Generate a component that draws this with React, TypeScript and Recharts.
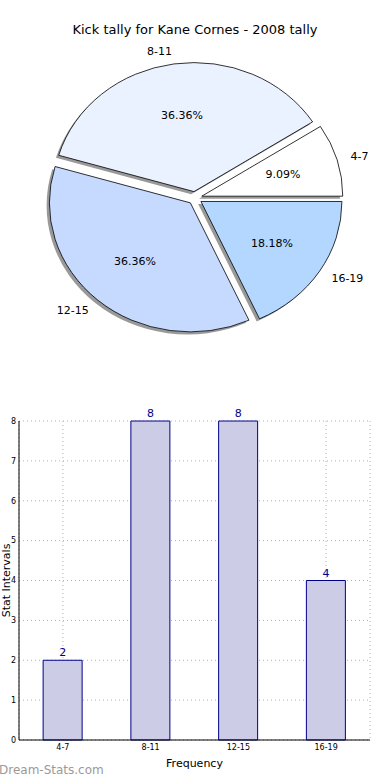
import React from "react";
import {
  PieChart,
  Pie,
  Cell,
  BarChart,
  Bar,
  XAxis,
  YAxis,
  CartesianGrid,
  LabelList,
  Label,
} from "recharts";

const categories = ["4-7", "8-11", "12-15", "16-19"];
const tallies = [2, 8, 8, 4];
const sliceColors = ["#ffffff", "#ebf2ff", "#c6d9ff", "#b3d7ff"];
const yTicks = [0, 1, 2, 3, 4, 5, 6, 7, 8];

const data = categories.map((name, i) => ({ name, value: tallies[i] }));

const FONT = "'DejaVu Sans', sans-serif";
const RAD = Math.PI / 180;
const Y_SQUASH = 129 / 141;
const EXPLODE = 0.05;

function ellipsePath(x0: number, y0: number, rx: number, ry: number, a0: number, a1: number) {
  const sx = x0 + rx * Math.cos(a0 * RAD);
  const sy = y0 - ry * Math.sin(a0 * RAD);
  const ex = x0 + rx * Math.cos(a1 * RAD);
  const ey = y0 - ry * Math.sin(a1 * RAD);
  const large = Math.abs(a1 - a0) > 180 ? 1 : 0;
  return `M${x0},${y0} L${sx},${sy} A${rx},${ry} 0 ${large} 0 ${ex},${ey} Z`;
}

// elliptical, exploded wedge with a matplotlib-like drop shadow
function WedgeShape(props: any) {
  const { cx, cy, outerRadius, startAngle, endAngle, fill } = props;
  const rx = outerRadius;
  const ry = outerRadius * Y_SQUASH;
  const mid = (startAngle + endAngle) / 2;
  const x0 = cx + EXPLODE * rx * Math.cos(mid * RAD);
  const y0 = cy - EXPLODE * ry * Math.sin(mid * RAD);
  return (
    <g>
      <path
        d={ellipsePath(x0 - 2.8, y0 + 2.6, rx, ry, startAngle, endAngle)}
        fill="#000"
        fillOpacity={0.4}
      />
      <path
        d={ellipsePath(x0, y0, rx, ry, startAngle, endAngle)}
        fill={fill}
        stroke="#000"
        strokeWidth={0.8}
        strokeLinejoin="miter"
      />
    </g>
  );
}

function PieLabels(props: any) {
  const { cx, cy, midAngle, outerRadius, name, percent } = props;
  const rx = outerRadius;
  const ry = outerRadius * Y_SQUASH;
  const c = Math.cos(midAngle * RAD);
  const s = Math.sin(midAngle * RAD);
  const x0 = cx + EXPLODE * rx * c;
  const y0 = cy - EXPLODE * ry * s;
  return (
    <g fontFamily={FONT} fontSize={11} fill="#000">
      <text
        x={x0 + 1.1 * rx * c}
        y={y0 - 1.1 * ry * s}
        textAnchor={c > 0 ? "start" : "end"}
        dominantBaseline="central"
      >
        {name}
      </text>
      <text
        x={x0 + 0.6 * rx * c}
        y={y0 - 0.6 * ry * s}
        textAnchor="middle"
        dominantBaseline="central"
      >
        {(percent * 100).toFixed(2)}%
      </text>
    </g>
  );
}

export default function App() {
  return (
    <div
      style={{
        position: "absolute",
        left: 0,
        top: 0,
        width: 390,
        height: 780,
        background: "#fff",
        overflow: "hidden",
        fontFamily: FONT,
      }}
    >
      <div
        style={{
          position: "absolute",
          top: 22,
          left: 0,
          width: 390,
          textAlign: "center",
          fontSize: 13,
          color: "#000",
        }}
      >
        Kick tally for Kane Cornes - 2008 tally
      </div>

      <div style={{ position: "absolute", top: 0, left: 0 }}>
        <PieChart width={390} height={370} margin={{ top: 0, right: 0, bottom: 0, left: 0 }}>
          <Pie
            data={data}
            dataKey="value"
            nameKey="name"
            cx={195}
            cy={198}
            outerRadius={141}
            startAngle={0}
            endAngle={360}
            isAnimationActive={false}
            labelLine={false}
            label={PieLabels}
            shape={WedgeShape}
            stroke="none"
          >
            {data.map((d, i) => (
              <Cell key={d.name} fill={sliceColors[i]} />
            ))}
          </Pie>
        </PieChart>
      </div>

      <div style={{ position: "absolute", top: 400, left: 0 }}>
        <BarChart
          width={390}
          height={380}
          data={data}
          margin={{ top: 21, right: 20, left: 0, bottom: 0 }}
          barCategoryGap="27.5%"
        >
          <CartesianGrid stroke="#b0b0b0" strokeDasharray="1 3" />
          <XAxis
            dataKey="name"
            height={40}
            stroke="#000"
            tickLine={false}
            tickSize={0}
            tick={{ fontSize: 8, fill: "#000", fontFamily: FONT }}
            tickMargin={4}
          >
            <Label
              value="Frequency"
              position="insideBottom"
              offset={13}
              style={{ fontSize: 11, fill: "#000", fontFamily: FONT }}
            />
          </XAxis>
          <XAxis
            xAxisId="top"
            dataKey="name"
            orientation="top"
            height={0}
            tick={false}
            tickLine={false}
            stroke="#000"
          />
          <YAxis
            width={19}
            domain={[0, 8]}
            ticks={yTicks}
            stroke="#000"
            tickLine={false}
            tickSize={0}
            tickMargin={3}
            tick={{ fontSize: 8, fill: "#000", fontFamily: FONT }}
            label={{
              content: (p: any) => {
                const vb = p.viewBox;
                const y = vb.y + vb.height / 2;
                return (
                  <text
                    x={6}
                    y={y}
                    transform={`rotate(-90 6 ${y})`}
                    textAnchor="middle"
                    dominantBaseline="central"
                    fontSize={11}
                    fontFamily={FONT}
                    fill="#000"
                  >
                    Stat Intervals
                  </text>
                );
              },
            }}
          />
          <YAxis
            yAxisId="right"
            orientation="right"
            width={0}
            domain={[0, 8]}
            tick={false}
            tickLine={false}
            stroke="#000"
          />
          <Bar
            dataKey="value"
            fill="#ccccE6"
            stroke="#00008b"
            strokeWidth={1}
            isAnimationActive={false}
          >
            <LabelList
              dataKey="value"
              position="top"
              offset={4}
              fill="#00008b"
              fontSize={11}
              fontFamily={FONT}
            />
          </Bar>
        </BarChart>
      </div>

      <div
        style={{
          position: "absolute",
          left: -1,
          top: 763,
          fontSize: 12,
          color: "#9a9a9a",
          fontFamily: FONT,
        }}
      >
        Dream-Stats.com
      </div>
    </div>
  );
}
